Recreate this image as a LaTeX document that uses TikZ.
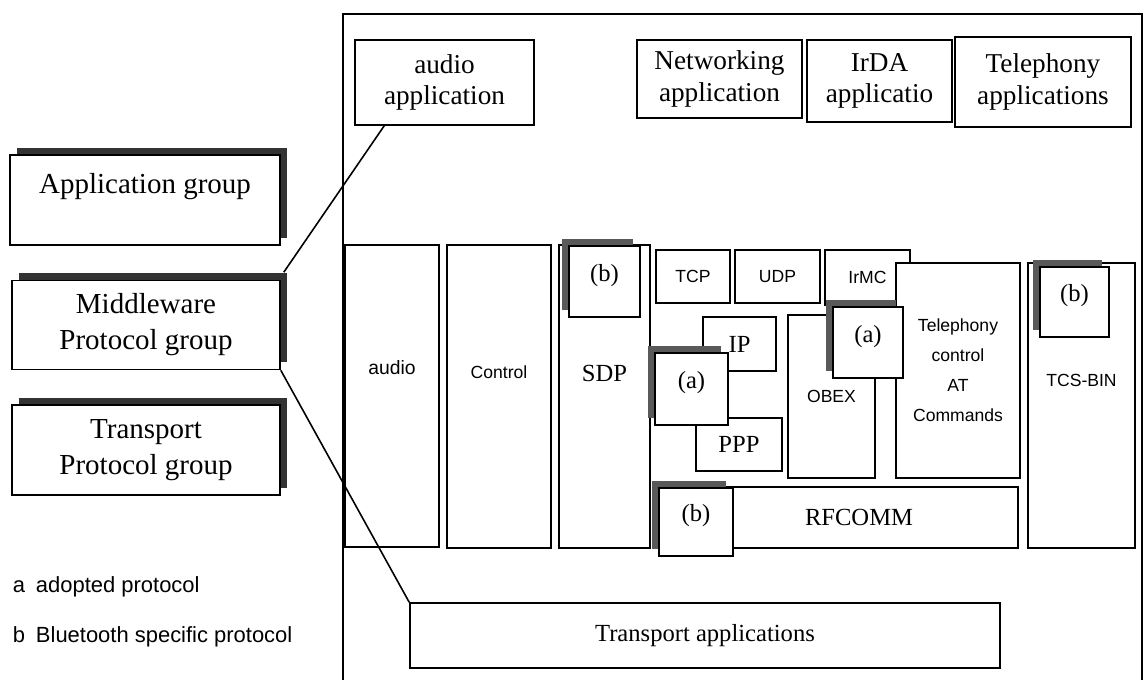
\documentclass[tikz,border=0pt]{standalone}
\usepackage{fontspec}
\setmainfont{Liberation Serif}
\setsansfont{Liberation Sans}
\usetikzlibrary{shadows, calc}

\begin{document}
\begin{tikzpicture}[x=0.02cm, y=-0.02cm, line width=0.9pt,
    sz/.style 2 args={minimum width=#1*0.02cm, minimum height=#2*0.02cm},
    lift/.style={text depth=#1},
    plain/.style={draw, fill=white, inner sep=0pt, align=center},
    grp/.style={plain, font=\fontsize{16.5}{20.5}\selectfont,
        drop shadow={shadow xshift=0.15cm, shadow yshift=0.15cm, fill=black!80, opacity=1}},
    app/.style={plain, font=\fontsize{15.5}{18}\selectfont},
    blk/.style={plain, font=\sffamily\fontsize{10}{17}\selectfont},
    mid/.style={plain, font=\fontsize{14}{17}\selectfont},
    tag/.style={mid, lift=0.36cm,
        drop shadow={shadow xshift=-0.15cm, shadow yshift=0.15cm, fill=black!65, opacity=1}},
    note/.style={anchor=west, inner sep=0pt, font=\sffamily\fontsize{12.5}{15}\selectfont}]
    \useasboundingbox (0,0) rectangle (1144,680);

    % Groups and legend
    \node (appgrp) [grp, sz={270}{90}, lift=0.68cm] at (145,200) {Application group};
    \node (midgrp) [grp, sz={268}{89}] at (146,325) {Middleware\\Protocol group};
    \node (trgrp) [grp, sz={268}{90}] at (146,450) {Transport\\Protocol group};
    \node (notea) [note] at (12,587) {a\enspace adopted protocol};
    \node (noteb) [note] at (12,637) {b\enspace Bluetooth specific protocol};

    % Stack frame
    \node (frame) [draw, sz={799}{700}, anchor=north west] at (342,13) {};

    % Applications
    \node (audioapp) [app, sz={179}{85}] at (444.5,82.5) {audio\\application};
    \node (netapp) [app, sz={165}{78}] at (719.5,79) {Networking\\application};
    \node (irdaapp) [app, sz={145}{82}] at (879.5,81) {IrDA\\applicatio};
    \node (telapp) [app, sz={176}{90}] at (1043,82) {Telephony\\applications};

    % Protocols
    \node (audio) [blk, sz={94}{302}, lift=1.16cm, font=\sffamily\fontsize{11}{13}\selectfont] at (392,396) {audio};
    \node (control) [blk, sz={104}{303}, lift=0.96cm] at (499,396.5) {Control};
    \node (sdp) [mid, sz={91}{303}, lift=0.92cm] at (604.5,396.5) {SDP};
    \node (sdpb) [tag, sz={71}{71}] at (604.5,281.5) {(b)};
    \node (tcp) [blk, sz={74}{53}] at (693,276.5) {TCP};
    \node (udp) [blk, sz={85}{53}] at (777.5,276.5) {UDP};
    \node (irmc) [blk, sz={85}{55}] at (867.5,277.5) {IrMC};
    \node (ip) [mid, sz={73}{54}] at (739.5,344) {IP};
    \node (ppp) [mid, sz={86}{53}] at (739,444.5) {PPP};
    \node (ipa) [tag, sz={73}{72}] at (691.5,389) {(a)};
    \node (obex) [blk, sz={87}{163}] at (831.5,396.5) {OBEX};
    \node (telctl) [blk, sz={124}{215}] at (958,370.5) {Telephony\\control\\AT\\Commands};
    \node (obexa) [tag, sz={70}{71}] at (868,342.5) {(a)};
    \node (tcsbin) [blk, sz={107}{285}, lift=1.0cm] at (1081.5,405.5) {TCS-BIN};
    \node (tcsb) [tag, sz={69}{70}] at (1074.5,302) {(b)};
    \node (rfcomm) [mid, sz={318}{61}] at (859,517.5) {RFCOMM};
    \node (rfb) [tag, sz={74}{68}] at (696,522) {(b)};
    \node (trapp) [mid, sz={590}{65}] at (705,635.5) {Transport applications};

    % Links from the middleware group
    \draw ([xshift=0.06cm, yshift=0.15cm]midgrp.north east) -- ($(audioapp.south west)+(30,0)$);
    \draw (midgrp.south east) -- (trapp.north west);
\end{tikzpicture}
\end{document}
